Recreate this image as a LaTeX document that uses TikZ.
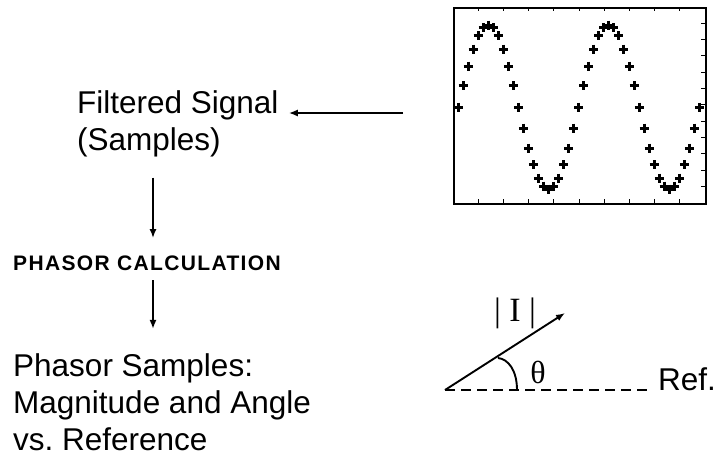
\documentclass[tikz,border=0pt]{standalone}
\usepackage{fontspec}
\setmainfont{Liberation Sans}
\newfontfamily\serifx{Liberation Serif}
\newfontfamily\calcfont[LetterSpace=6.5]{Liberation Sans}
\usetikzlibrary{arrows.meta}
\begin{document}
\begin{tikzpicture}[x=1pt,y=-1pt,
  lbl/.style={inner sep=0pt,font=\fontsize{31.5}{37}\selectfont,align=left},
  arr/.style={line width=1.9pt,-{Latex[length=9pt,width=7pt]}},
  mk/.style={line width=3pt},
  tick/.style={line width=1pt}]
\useasboundingbox[fill=white] (0,0) rectangle (718,459);
% labels (base anchor = baseline of last line)
\node[lbl,anchor=base west] (filt) at (77,150) {Filtered Signal\\(Samples)};
\node[inner sep=0pt,anchor=base west,font=\calcfont\fontsize{21}{24}\selectfont\bfseries] (calc) at (13,270) {PHASOR CALCULATION};
\node[lbl,anchor=base west] (phs) at (13,450) {Phasor Samples:\\Magnitude and Angle\\vs.\ Reference};
% plot
\node[draw,line width=1.5pt,minimum width=252pt,minimum height=196pt,anchor=north west,inner sep=0pt] (plot) at (453,7) {};
\foreach \k in {1,...,9}{
  \draw[tick] (453+25.2*\k,7) -- ++(0,4);
  \draw[tick] (453+25.2*\k,203) -- ++(0,-4);
}
\foreach \k in {1,...,11}{
  \draw[tick] (705,7+16.33*\k) -- ++(-4,0);
}
\foreach \i in {0,...,48}{
  \pgfmathsetmacro{\xx}{458+\i*5.03}
  \pgfmathsetmacro{\yy}{107-82*sin(\i*15)}
  \draw[mk] (\xx-4.5,\yy) -- (\xx+4.5,\yy) (\xx,\yy-4.5) -- (\xx,\yy+4.5);
}
% connectors
\coordinate (sig) at (403,113);
\coordinate (ax) at (153,0);
\draw[arr,shorten >=10pt] (sig) -- (sig -| filt.east);
\draw[arr,shorten <=21pt,shorten >=17pt] (filt.south -| ax) -- (calc.north -| ax);
\draw[arr,shorten <=10pt,shorten >=24pt] (calc.south -| ax) -- (phs.north -| ax);
% phasor diagram
\coordinate (o) at (445,390);
\coordinate (t) at (565,313);
\coordinate (refend) at (650,390);
\node[inner sep=0pt,anchor=base west,font=\fontsize{31.5}{37}\selectfont] (ref) at (658,390) {Ref.};
\draw[line width=1.9pt,dash pattern=on 10pt off 6pt] (o) -- (refend);
\draw[arr] (o) -- (t);
\draw[line width=1.9pt] (498,358) .. controls (508,359) and (517,370) .. (517,390);
\node[inner sep=0pt,font=\serifx\fontsize{32}{34}\selectfont] (th) at (538,372) {θ};
\node[inner sep=0pt,font=\serifx\fontsize{34}{36}\selectfont] (mag) at (515,313) {| I |};
\end{tikzpicture}
\end{document}
